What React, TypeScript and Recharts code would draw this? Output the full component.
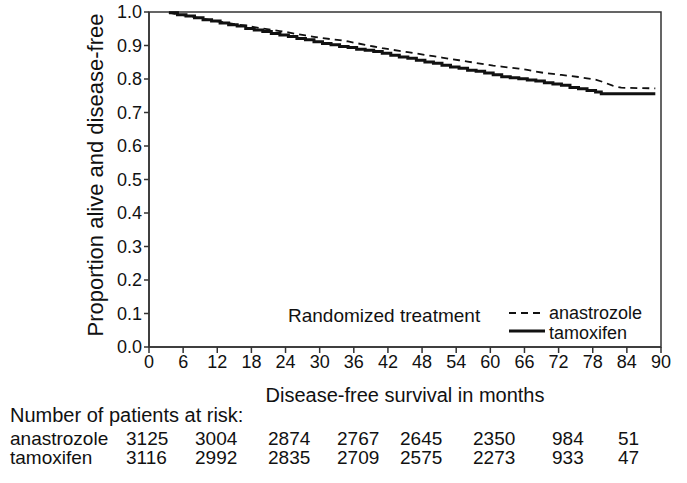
import React from "react";
import { LineChart, Line, XAxis, YAxis, ReferenceArea } from "recharts";

// ---- data ----
const tamMonths = [3.5, 5, 6.5, 8, 9.5, 11, 12.5, 14, 15.5, 17, 18.5, 20, 21.5, 23, 24.5, 26, 27.5, 29, 30.5, 32, 33.5, 35, 36.5, 38, 39.5, 41, 42.5, 44, 45.5, 47, 48.5, 50, 51.5, 53, 54.5, 56, 57.5, 59, 60.5, 62, 63.5, 65, 66.5, 68, 69.5, 71, 72.5, 74, 75.5, 77, 78.5, 79.5, 89];
const tamValues = [0.998, 0.992, 0.988, 0.983, 0.977, 0.973, 0.967, 0.962, 0.958, 0.951, 0.946, 0.942, 0.936, 0.931, 0.927, 0.921, 0.917, 0.911, 0.906, 0.902, 0.897, 0.894, 0.889, 0.886, 0.882, 0.877, 0.871, 0.866, 0.862, 0.856, 0.851, 0.847, 0.841, 0.836, 0.832, 0.826, 0.823, 0.818, 0.813, 0.807, 0.804, 0.801, 0.797, 0.794, 0.789, 0.785, 0.781, 0.775, 0.771, 0.766, 0.761, 0.756, 0.756];

const anaMonths = [3.5, 5, 6.5, 8, 9.5, 11, 12.5, 14, 15.5, 17, 18.5, 20, 21.5, 23, 24.5, 26, 27.5, 29, 30.5, 32, 33.5, 35, 36.5, 38, 39.5, 41, 42.5, 44, 45.5, 47, 48.5, 50, 51.5, 53, 54.5, 56, 57.5, 59, 60.5, 62, 63.5, 65, 66.5, 68, 69.5, 71, 72.5, 74, 75.5, 77, 78.5, 80, 81.5, 83, 89];
const anaValues = [0.998, 0.993, 0.989, 0.984, 0.980, 0.975, 0.971, 0.967, 0.963, 0.959, 0.955, 0.951, 0.947, 0.943, 0.939, 0.934, 0.930, 0.926, 0.922, 0.919, 0.916, 0.912, 0.907, 0.902, 0.897, 0.892, 0.888, 0.884, 0.880, 0.876, 0.872, 0.868, 0.864, 0.860, 0.856, 0.852, 0.848, 0.844, 0.840, 0.837, 0.834, 0.831, 0.827, 0.822, 0.818, 0.815, 0.812, 0.809, 0.806, 0.802, 0.798, 0.790, 0.780, 0.774, 0.772];

const xTicks = [0, 6, 12, 18, 24, 30, 36, 42, 48, 54, 60, 66, 72, 78, 84, 90];
const yTicks = [0, 0.1, 0.2, 0.3, 0.4, 0.5, 0.6, 0.7, 0.8, 0.9, 1.0];

const seriesNames = ["anastrozole", "tamoxifen"];
const anaAtRisk = ["3125", "3004", "2874", "2767", "2645", "2350", "984", "51"];
const tamAtRisk = ["3116", "2992", "2835", "2709", "2575", "2273", "933", "47"];

const xTitle = "Disease-free survival in months";
const yTitle = "Proportion alive and disease-free";
const legendTitle = "Randomized treatment";
const riskTitle = "Number of patients at risk:";

// ---- layout ----
const FONT = "'Liberation Sans', Arial, Helvetica, sans-serif";
const riskColX = [126, 195, 268, 337, 400, 473, 552, 618];

const tamData = tamMonths.map((m, i) => ({ month: m, value: tamValues[i] }));
const anaData = anaMonths.map((m, i) => ({ month: m, value: anaValues[i] }));

export default function App() {
  return (
    <div style={{ position: "relative", width: 687, height: 483, background: "#fff" }}>
      <style>{`body{margin:0;background:#fff}`}</style>
      <LineChart width={687} height={483} margin={{ top: 12, right: 26, left: 0, bottom: 96 }}>
        <XAxis
          dataKey="month"
          type="number"
          domain={[0, 90]}
          ticks={xTicks}
          interval={0}
          height={40}
          tickSize={6}
          tickMargin={2}
          stroke="#333"
          strokeWidth={1.5}
          tick={{ fontSize: 18, fill: "#111", fontFamily: FONT }}
          allowDataOverflow
        />
        <YAxis
          type="number"
          domain={[0, 1]}
          ticks={yTicks}
          interval={0}
          width={149}
          tickSize={5}
          tickMargin={2}
          stroke="#333"
          strokeWidth={1.5}
          tickFormatter={(v: number) => v.toFixed(1)}
          tick={{ fontSize: 18, fill: "#111", fontFamily: FONT }}
        />
        <ReferenceArea x1={0} x2={90} y1={0} y2={1} fill="none" stroke="#333" strokeWidth={1.5} />
        <Line
          data={anaData}
          dataKey="value"
          name={seriesNames[0]}
          type="linear"
          stroke="#111"
          strokeWidth={1.8}
          strokeDasharray="7 5"
          dot={false}
          isAnimationActive={false}
        />
        <Line
          data={tamData}
          dataKey="value"
          name={seriesNames[1]}
          type="stepAfter"
          stroke="#111"
          strokeWidth={3}
          dot={false}
          isAnimationActive={false}
        />
      </LineChart>
      <svg
        width={687}
        height={483}
        style={{ position: "absolute", left: 0, top: 0, pointerEvents: "none" }}
        fontFamily={FONT}
        fill="#111"
      >
        <text x={95} y={175} fontSize={22} textAnchor="middle" dominantBaseline="central" transform="rotate(-90 95 175)">
          {yTitle}
        </text>
        <text x={405} y={402} fontSize={20} textAnchor="middle">{xTitle}</text>

        <text x={288} y={322} fontSize={19}>{legendTitle}</text>
        <line x1={509} y1={313} x2={545} y2={313} stroke="#111" strokeWidth={1.8} strokeDasharray="7 5" />
        <text x={549} y={319} fontSize={18}>{seriesNames[0]}</text>
        <line x1={509} y1={331} x2={545} y2={331} stroke="#111" strokeWidth={3} />
        <text x={549} y={339} fontSize={18}>{seriesNames[1]}</text>

        <text x={10} y={422} fontSize={20}>{riskTitle}</text>
        <text x={10} y={445} fontSize={19}>{seriesNames[0]}</text>
        <text x={10} y={464} fontSize={19}>{seriesNames[1]}</text>
        {anaAtRisk.map((v, i) => (
          <text key={"a" + i} x={riskColX[i]} y={445} fontSize={19}>{v}</text>
        ))}
        {tamAtRisk.map((v, i) => (
          <text key={"t" + i} x={riskColX[i]} y={464} fontSize={19}>{v}</text>
        ))}
      </svg>
    </div>
  );
}
